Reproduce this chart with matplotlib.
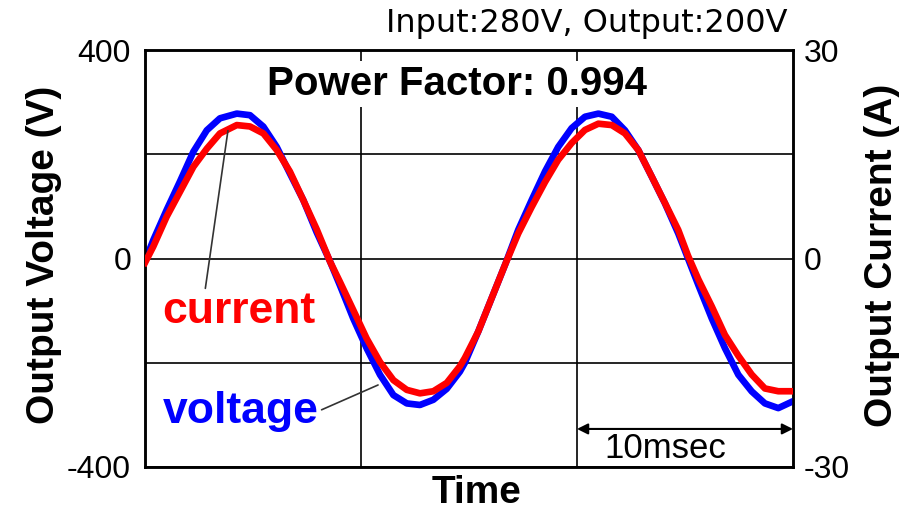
import matplotlib
matplotlib.use('Agg')
import matplotlib.pyplot as plt

# ---- data (time in ms) ----
time_ms = [0.0, 0.38, 1.0, 1.62, 2.24, 2.86, 3.47, 4.25, 4.86, 5.48, 6.10, 6.71, 7.33, 7.95,
           8.56, 9.03, 9.64, 10.26, 10.88, 11.50, 12.12, 12.73, 13.35, 13.97, 14.58, 14.81,
           15.43, 16.05, 16.67, 17.28, 17.90, 18.52, 19.13, 19.75, 20.37, 20.99, 21.61, 22.22,
           22.84, 23.46, 24.07, 24.69, 25.14, 25.62, 26.24, 26.85, 27.47, 28.09, 28.70, 29.32,
           29.94]
voltage_v = [-5, 35, 93, 148, 205, 246, 269, 278, 275, 253, 214, 163, 112, 50,
             -5, -52, -115, -172, -223, -262, -278, -281, -271, -250, -217, -200,
             -140, -76, -12, 55, 112, 167, 214, 250, 272, 278, 272, 246,
             208, 157, 106, 48, 0, -51, -115, -172, -223, -255, -278, -287,
             -275]
current_a = [-0.6, 1.7, 6.0, 9.6, 13.2, 15.8, 18.0, 19.2, 19.0, 18.0, 15.6, 12.5, 8.4, 4.2,
             -0.4, -3.4, -7.4, -11.5, -14.9, -17.5, -18.9, -19.4, -19.1, -17.9, -15.5, -14.3,
             -10.5, -5.7, -0.9, 3.6, 7.4, 11.0, 14.2, 16.6, 18.5, 19.4, 19.2, 18.0,
             15.6, 11.8, 8.0, 4.1, 0.4, -3.0, -6.9, -11.0, -14.0, -16.7, -18.7, -19.1,
             -19.1]

volt_ticks = [-400, -200, 0, 200, 400]
volt_tick_labels = ['-400', '', '0', '', '400']
curr_ticks = [-30, 0, 30]
curr_tick_labels = ['-30', '0', '30']
time_grid = [10, 20]

title_text = 'Power Factor: 0.994'
cond_text = 'Input:280V, Output:200V'

plt.rcParams['font.family'] = ['Liberation Sans', 'DejaVu Sans']

fig = plt.figure(figsize=(9.16, 5.12), dpi=100)
ax = fig.add_axes([0.1583, 0.0879, 0.7074, 0.8144])
ax2 = ax.twinx()

ax.plot(time_ms, voltage_v, color='#0000ff', lw=4.8, solid_joinstyle='round', zorder=3)
ax2.plot(time_ms, current_a, color='#ff0000', lw=4.8, solid_joinstyle='round', zorder=3)

ax.set_xlim(0, 30)
ax.set_ylim(-400, 400)
ax2.set_ylim(-30, 30)

ax.set_xticks(time_grid)
ax.set_xticklabels([])
ax.set_yticks(volt_ticks)
ax.set_yticklabels(volt_tick_labels)
ax2.set_yticks(curr_ticks)
ax2.set_yticklabels(curr_tick_labels)

ax.tick_params(axis='both', length=0)
ax.tick_params(axis='y', labelsize=23, pad=10)
ax2.tick_params(axis='y', length=0, labelsize=23, pad=8)

ax.grid(True, color='black', lw=1.2)
ax.set_axisbelow(True)

for a in (ax, ax2):
    for s in a.spines.values():
        s.set_linewidth(1.8)
        s.set_color('black')

ax.set_ylabel('Output Voltage (V)', fontsize=28, fontweight='bold')
ax.yaxis.set_label_coords(-0.128, 0.508)
ax2.set_ylabel('Output Current (A)', fontsize=28, fontweight='bold')
ax2.yaxis.set_label_coords(1.110, 0.508)
ax.set_xlabel('Time', fontsize=28, fontweight='bold')
ax.xaxis.set_label_coords(0.512, -0.02)

ax2.text(0.481, 0.892, title_text, transform=ax.transAxes, ha='center', va='baseline',
         fontsize=29, fontweight='bold', zorder=5,
         bbox=dict(facecolor='white', edgecolor='none', pad=3))

fig.text(0.860, 0.9375, cond_text, ha='right', va='baseline', fontsize=23,
         family='DejaVu Sans')

ax2.annotate('current', xy=(3.84, 18.4), xytext=(0.79, -9.3), textcoords='data',
             ha='left', va='baseline', color='#ff0000', fontsize=32, fontweight='bold',
             arrowprops=dict(arrowstyle='-', color='#333333', lw=1.2,
                             shrinkA=0, shrinkB=0, relpos=(0.28, 1.0)))
ax2.annotate('voltage', xy=(10.79, -18.2), xytext=(0.83, -23.6), textcoords='data',
             ha='left', va='baseline', color='#0000ff', fontsize=32, fontweight='bold',
             arrowprops=dict(arrowstyle='-', color='#333333', lw=1.2,
                             shrinkA=0, shrinkB=0, relpos=(1.0, 0.5)))

ax.annotate('', xy=(30, -327), xytext=(20, -327),
            arrowprops=dict(arrowstyle='<|-|>', color='black', lw=1.5,
                            shrinkA=0, shrinkB=0, mutation_scale=16))
ax.text(24.1, -383, '10msec', ha='center', va='baseline', fontsize=25)

fig.savefig('out.png', dpi=100)
